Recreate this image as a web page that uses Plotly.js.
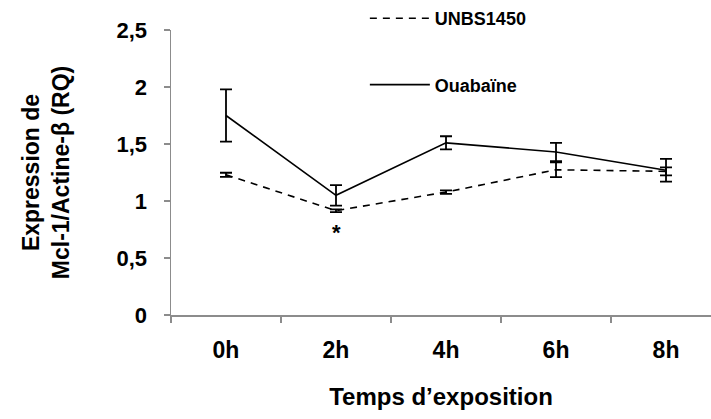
<!DOCTYPE html>
<html>
<head>
<meta charset="utf-8">
<script src="https://cdn.plot.ly/plotly-3.0.1.min.js"></script>
<style>html,body{margin:0;padding:0;background:#fff;}#chart{width:711px;height:419px;}</style>
</head>
<body>
<div id="chart"></div>
<script>
const categories = ['0h', '2h', '4h', '6h', '8h'];
const unbsValues = [1.23, 0.915, 1.078, 1.274, 1.26];
const unbsErrors = [0.018, 0.012, 0.015, 0.065, 0.035];
const ouabValues = [1.75, 1.05, 1.51, 1.43, 1.27];
const ouabErrors = [0.23, 0.09, 0.058, 0.08, 0.1];
const seriesNames = ['UNBS1450', 'Ouabaïne'];
const yTitle = 'Expression de<br>Mcl-1/Actine-β (RQ)';
const xTitle = 'Temps d’exposition';

const FONT = 'Liberation Sans, Arial, sans-serif';

const traces = [
  {
    x: categories, y: unbsValues, name: seriesNames[0], type: 'scatter', mode: 'lines',
    legendgroup: 'a',
    line: {color: '#000', width: 1.6, dash: '7px,6px'},
    error_y: {type: 'data', array: unbsErrors, visible: true, color: '#000', thickness: 1.8, width: 6}
  },
  {
    x: categories, y: ouabValues, name: seriesNames[1], type: 'scatter', mode: 'lines',
    legendgroup: 'b',
    line: {color: '#000', width: 1.6},
    error_y: {type: 'data', array: ouabErrors, visible: true, color: '#000', thickness: 1.8, width: 6}
  }
];

const layout = {
  width: 711, height: 419,
  margin: {l: 171, r: 0, t: 29, b: 104},
  paper_bgcolor: '#fff', plot_bgcolor: '#fff',
  separators: ', ',
  font: {family: FONT, color: '#000', weight: 'bold'},
  showlegend: true,
  legend: {
    x: 0.359, xanchor: 'left', y: 1.107, yanchor: 'top',
    traceorder: 'grouped', tracegroupgap: 40,
    itemwidth: 60,
    font: {family: FONT, size: 18, color: '#000', weight: 'bold'},
    bgcolor: 'rgba(0,0,0,0)'
  },
  xaxis: {
    type: 'category', categoryorder: 'array', categoryarray: categories,
    range: [-0.5, 4.409],
    tickson: 'boundaries',
    showline: true, linecolor: '#8c8c8c', linewidth: 1.5,
    ticks: 'outside', ticklen: 6, tickcolor: '#8c8c8c', tickwidth: 1.5,
    showgrid: false, zeroline: false,
    tickfont: {family: FONT, size: 23, color: '#000', weight: 'bold'},
    ticklabelstandoff: 14,
    title: {text: xTitle, font: {family: FONT, size: 24, color: '#000', weight: 'bold'}, standoff: 26}
  },
  yaxis: {
    range: [0, 2.5], dtick: 0.5, tick0: 0,
    showline: true, linecolor: '#8c8c8c', linewidth: 1.5,
    ticks: 'outside', ticklen: 6, tickcolor: '#8c8c8c', tickwidth: 1.5,
    showgrid: false, zeroline: false,
    tickfont: {family: FONT, size: 22, color: '#000', weight: 'bold'},
    ticklabelstandoff: 12,
    title: {text: yTitle, font: {family: FONT, size: 23, color: '#000', weight: 'bold'}, standoff: 40}
  },
  annotations: [
    {x: '2h', y: 0.72, xref: 'x', yref: 'y', text: '*', showarrow: false,
     font: {family: FONT, size: 22, color: '#000', weight: 'bold'}}
  ]
};

Plotly.newPlot('chart', traces, layout, {displayModeBar: false, staticPlot: true});
</script>
</body>
</html>
